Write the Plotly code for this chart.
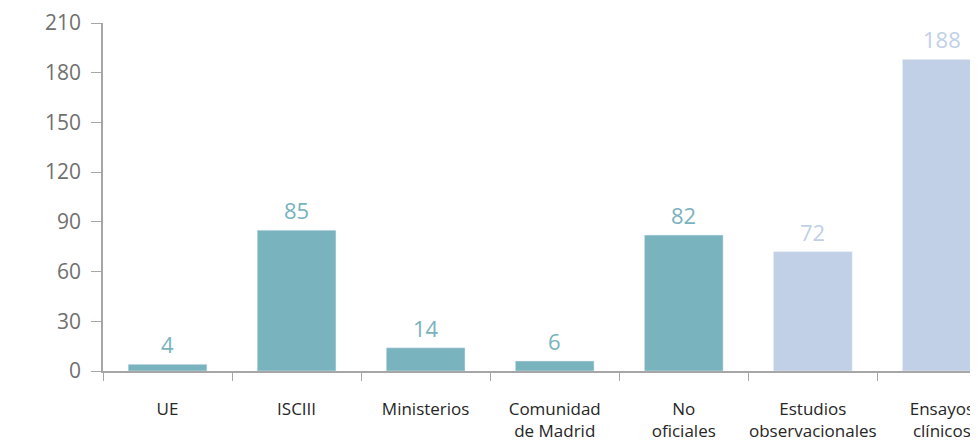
import plotly.graph_objects as go

categories = ["UE", "ISCIII", "Ministerios", "Comunidad<br>de Madrid", "No<br>oficiales",
              "Estudios<br>observacionales", "Ensayos<br>clínicos"]
values = [4, 85, 14, 6, 82, 72, 188]
groups = ["fin", "fin", "fin", "fin", "fin", "est", "est"]
y_ticks = [0, 30, 60, 90, 120, 150, 180, 210]

colors = {"fin": "#78B3BE", "est": "#C1D0E6"}
bar_colors = [colors[g] for g in groups]

fig = go.Figure()
fig.add_trace(go.Bar(x=categories, y=values, marker_color=bar_colors, width=0.61,
                     hoverinfo="x+y"))

for c, v, col in zip(categories, values, bar_colors):
    fig.add_annotation(x=c, y=v, text=str(v), showarrow=False, yanchor="bottom",
                       yshift=3, font=dict(size=22, color=col, family="Open Sans"))

fig.update_layout(
    width=970, height=436,
    margin=dict(l=95, r=0, t=15, b=73),
    plot_bgcolor="white", paper_bgcolor="white",
    showlegend=False,
    font=dict(family="Open Sans"),
    bargap=0.39,
)
fig.update_xaxes(
    type="category", range=[-0.5, 6.28], automargin=False, tickangle=0,
    showline=True, linecolor="#A6A6A6", linewidth=1.5,
    ticks="outside", tickson="boundaries", ticklen=8, tickcolor="#A6A6A6",
    tickfont=dict(size=17, color="#262626", family="Open Sans"),
    ticklabelstandoff=22,
    showgrid=False,
)
fig.update_yaxes(
    range=[0, 210], tickvals=y_ticks, automargin=False,
    showline=True, linecolor="#A6A6A6", linewidth=1.5,
    ticks="outside", ticklen=10, tickcolor="#A6A6A6",
    tickfont=dict(size=21, color="#707070", family="Open Sans"),
    ticklabelstandoff=6,
    showgrid=False, zeroline=False,
)

fig.write_html("out.html")
